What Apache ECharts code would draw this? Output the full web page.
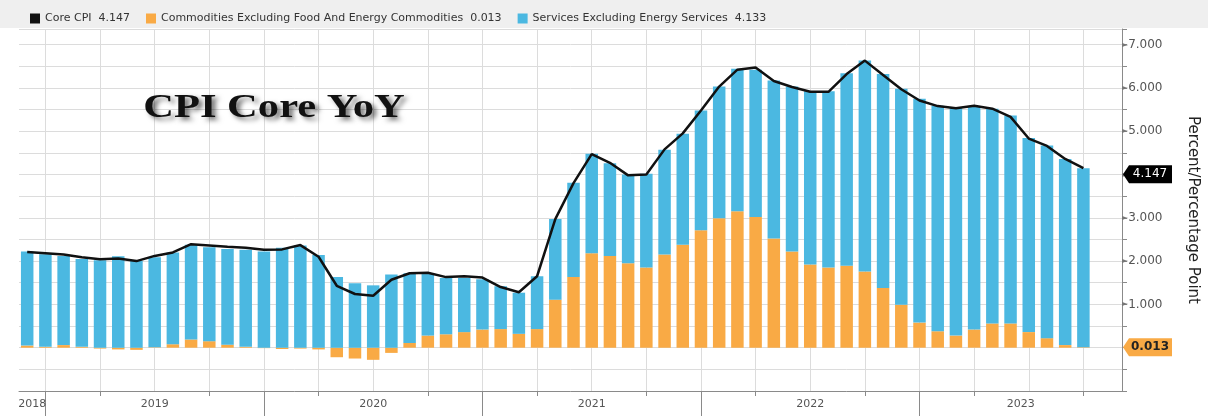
<!DOCTYPE html>
<html><head><meta charset="utf-8">
<script src="https://cdn.jsdelivr.net/npm/echarts@6/dist/echarts.min.js"></script>
<style>html,body{margin:0;padding:0;background:#fff}#c{width:1208px;height:416px}</style>
</head><body><div id="c"></div>
<script>
// ---- data (monthly, Nov 2018 .. Sep 2023) ----
const months = ['2018-11','2018-12',
 '2019-01','2019-02','2019-03','2019-04','2019-05','2019-06','2019-07','2019-08','2019-09','2019-10','2019-11','2019-12',
 '2020-01','2020-02','2020-03','2020-04','2020-05','2020-06','2020-07','2020-08','2020-09','2020-10','2020-11','2020-12',
 '2021-01','2021-02','2021-03','2021-04','2021-05','2021-06','2021-07','2021-08','2021-09','2021-10','2021-11','2021-12',
 '2022-01','2022-02','2022-03','2022-04','2022-05','2022-06','2022-07','2022-08','2022-09','2022-10','2022-11','2022-12',
 '2023-01','2023-02','2023-03','2023-04','2023-05','2023-06','2023-07','2023-08','2023-09'];
const coreCPI = [2.21,2.18,
 2.15,2.09,2.04,2.06,2.00,2.12,2.20,2.39,2.36,2.33,2.31,2.26,
 2.27,2.37,2.10,1.43,1.24,1.20,1.57,1.72,1.73,1.63,1.65,1.62,
 1.40,1.28,1.65,2.97,3.80,4.47,4.27,3.98,4.00,4.58,4.95,5.48,
 6.03,6.42,6.47,6.16,6.02,5.91,5.91,6.32,6.63,6.30,5.97,5.71,
 5.58,5.53,5.59,5.52,5.33,4.83,4.66,4.36,4.147];
const coreGoods = [0.05,0.02,
 0.06,0.02,-0.02,-0.04,-0.05,0.01,0.08,0.19,0.15,0.07,0.02,-0.01,
 -0.03,-0.02,-0.04,-0.22,-0.25,-0.28,-0.12,0.11,0.28,0.31,0.36,0.42,
 0.43,0.32,0.43,1.11,1.63,2.18,2.12,1.95,1.85,2.15,2.38,2.71,
 2.99,3.15,3.02,2.52,2.22,1.92,1.85,1.89,1.76,1.38,0.99,0.58,
 0.38,0.28,0.42,0.56,0.56,0.36,0.22,0.06,0.013];
const coreServices = [2.17,2.14,
 2.06,2.03,2.02,2.11,2.00,2.08,2.12,2.19,2.17,2.21,2.24,2.22,
 2.31,2.36,2.14,1.63,1.49,1.44,1.69,1.61,1.42,1.30,1.25,1.16,
 0.99,0.95,1.22,1.86,2.18,2.30,2.14,2.05,2.17,2.42,2.56,2.77,
 3.04,3.29,3.40,3.65,3.81,4.00,4.07,4.45,4.87,4.94,4.99,5.17,
 5.21,5.27,5.15,4.96,4.80,4.48,4.45,4.30,4.133];
const yearLabels = ['2018','2019','2020','2021','2022','2023'];
const seriesNames = ['Core CPI','Commodities Excluding Food And Energy Commodities','Services Excluding Energy Services'];

// ---- derived helpers ----
const X_MIN = -0.45, X_MAX = 60.12;
const idxWhere = f => months.map((m,i)=>f(m)?i:-1).filter(i=>i>=0);
const decIdx = idxWhere(m=>m.endsWith('-12'));
const marSepIdx = idxWhere(m=>m.endsWith('-03')||m.endsWith('-09'));
const quarterIdx = idxWhere(m=>/-(03|06|09|12)$/.test(m));
const yearPos = yearLabels.map(y=>{
  const prevDec = months.indexOf((+y-1)+'-12');
  const dec = months.indexOf(y+'-12');
  const a = prevDec>=0?prevDec:X_MIN, b = dec>=0?dec:X_MAX;
  return (a+b)/2;
});
const valFirst = arr => arr.map((v,i)=>[v,i]);   // value first so stacking runs on y
const pairs = arr => arr.map((v,i)=>[i,v]);
const last = a => a[a.length-1];
const lastVals = {};
lastVals[seriesNames[0]] = last(coreCPI);
lastVals[seriesNames[1]] = last(coreGoods);
lastVals[seriesNames[2]] = last(coreServices);

const FONT = 'DejaVu Sans';
const chart = echarts.init(document.getElementById('c'), null, {renderer:'canvas'});
const option = {
  animation:false,
  backgroundColor:'#ffffff',
  grid:{left:19, right:86, top:29, bottom:25, containLabel:false},
  legend:{
    left:25, top:8, z:10, itemWidth:10, itemHeight:10, itemGap:16, icon:'rect',
    data:seriesNames,
    textStyle:{fontFamily:FONT, fontSize:11, color:'#333'},
    formatter: n => n + '  ' + lastVals[n].toFixed(3)
  },
  xAxis:[{
    type:'value', min:X_MIN, max:X_MAX, position:'bottom',
    axisLine:{show:true, onZero:false, lineStyle:{color:'#8a8a8a', width:1}},
    axisTick:{show:true, customValues:marSepIdx, length:5, lineStyle:{color:'#8a8a8a'}},
    axisLabel:{show:true, customValues:yearPos, margin:8, fontFamily:FONT, fontSize:11, color:'#555',
      formatter: v => { let k=0,d=1e9; yearPos.forEach((p,i)=>{if(Math.abs(p-v)<d){d=Math.abs(p-v);k=i;}}); return yearLabels[k]; }},
    splitLine:{show:false}
  },{
    type:'value', min:X_MIN, max:X_MAX, position:'bottom',
    axisLine:{show:false, onZero:false},
    axisTick:{show:true, customValues:decIdx, length:27, lineStyle:{color:'#8a8a8a'}},
    axisLabel:{show:false}, splitLine:{show:false}
  }],
  yAxis:{
    type:'value', position:'right', min:-1, max:7.36, interval:0.5,
    axisLine:{show:true, onZero:false, lineStyle:{color:'#8a8a8a'}},
    axisTick:{show:true, length:5, lineStyle:{color:'#8a8a8a'}},
    axisLabel:{margin:0, fontFamily:FONT, fontSize:12, color:'#555',
      formatter: v => (Math.abs(v-Math.round(v))<1e-9 && v>=1 && v<=7) ? '{a|►}'+v.toFixed(3) : '',
      rich:{a:{fontSize:8, color:'#777', fontFamily:FONT}}},
    splitLine:{show:true, lineStyle:{color:'#dcdcdc', width:1}},
    name:'Percent/Percentage Point', nameLocation:'middle', nameRotate:-90, nameGap:63,
    nameTextStyle:{fontFamily:FONT, fontSize:15, color:'#222'}
  },
  series:[{
    name:seriesNames[1], type:'bar', stack:'c', barWidth:12.5, z:2,
    itemStyle:{color:'#f9aa45'},
    encode:{x:1, y:0},
    data:valFirst(coreGoods),
    markLine:{silent:true, z:1, symbol:['none','none'], label:{show:false},
      lineStyle:{color:'#dcdcdc', width:1, type:'solid'},
      data:quarterIdx.map(i=>({xAxis:i}))}
  },{
    name:seriesNames[2], type:'bar', stack:'c', barWidth:12.5, z:2,
    itemStyle:{color:'#4bb8e1'},
    encode:{x:1, y:0},
    data:valFirst(coreServices)
  },{
    name:seriesNames[0], type:'line', z:5, symbol:'none',
    lineStyle:{color:'#111', width:2.5}, itemStyle:{color:'#111'},
    data:pairs(coreCPI)
  }],
  graphic:[
    {type:'rect', z:3, silent:true, shape:{x:0,y:0,width:1208,height:28}, style:{fill:'#efefef'}},
    {type:'text', z:6, x:274, y:108, scaleX:1.29, silent:true,
      style:{text:'CPI Core YoY', font:'bold 33px "Liberation Serif"', fill:'#111', align:'center', verticalAlign:'middle',
        textShadowColor:'rgba(0,0,0,0.55)', textShadowBlur:5, textShadowOffsetX:4, textShadowOffsetY:3}}
  ]
};
chart.setOption(option);

// value tags on the right axis, positioned through the y scale
const ax = chart.convertToPixel({xAxisIndex:0}, X_MAX);
const yCore = chart.convertToPixel({yAxisIndex:0}, last(coreCPI)) + 6;
const yGoods = chart.convertToPixel({yAxisIndex:0}, last(coreGoods));
function tag(yc, fill, txtColor, txt, bold){
  const x0 = ax + 1, h = 9;
  return [{type:'polygon', z:7, silent:true,
      shape:{points:[[x0,yc],[x0+6,yc-h],[x0+49,yc-h],[x0+49,yc+h],[x0+6,yc+h]]}, style:{fill:fill}},
    {type:'text', z:8, silent:true, x:x0+27, y:yc,
      style:{text:txt, font:(bold?'bold ':'')+'12px "'+FONT+'"', fill:txtColor, align:'center', verticalAlign:'middle'}}];
}
chart.setOption({graphic: option.graphic.concat(
  tag(yCore, '#000', '#fff', last(coreCPI).toFixed(3), false),
  tag(yGoods, '#f9aa45', '#222', last(coreGoods).toFixed(3), true)
)});
</script></body></html>
